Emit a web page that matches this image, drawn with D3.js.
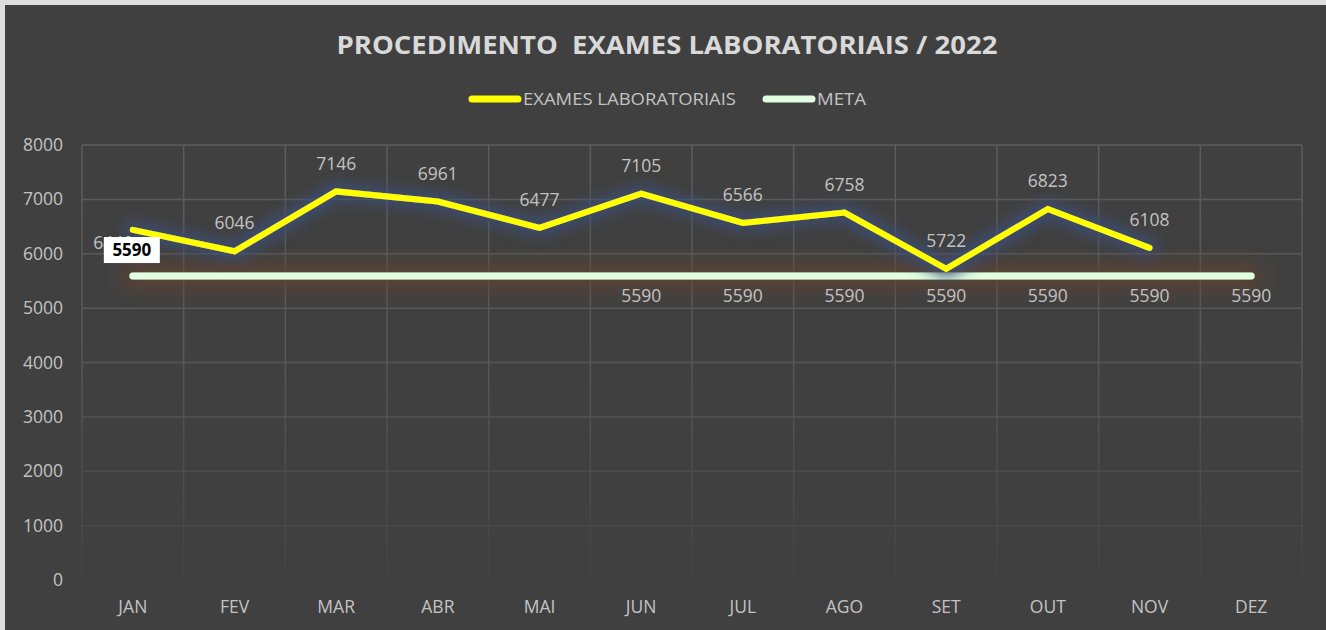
<!DOCTYPE html>
<html>
<head>
<meta charset="utf-8">
<script src="https://cdn.jsdelivr.net/npm/d3@7"></script>
<style>
  body { margin: 0; background: #404040; }
  svg { display: block; }
</style>
</head>
<body>
<div id="graf"></div>
<script>
// Datos
meses  = ['JAN', 'FEV', 'MAR', 'ABR', 'MAI', 'JUN', 'JUL', 'AGO', 'SET', 'OUT', 'NOV', 'DEZ']
exames = [6440, 6046, 7146, 6961, 6477, 7105, 6566, 6758, 5722, 6823, 6108, null]
meta   = [5590, 5590, 5590, 5590, 5590, 5590, 5590, 5590, 5590, 5590, 5590, 5590]
// rótulos da meta que aparecem no gráfico
metaVisivel = [false, false, false, false, false, true, true, true, true, true, true, true]
yTicks = [0, 1000, 2000, 3000, 4000, 5000, 6000, 7000, 8000]
titulo = 'PROCEDIMENTO  EXAMES LABORATORIAIS / 2022'
series = ['EXAMES LABORATORIAIS', 'META']

ancho_total = 1326
alto_total  = 630
margins = { top: 145, left: 82, right: 24, bottom: 50 }
ancho = ancho_total - margins.left - margins.right
alto  = alto_total - margins.top - margins.bottom

fonte = '"Open Sans", "DejaVu Sans", sans-serif'
cinza = '#c3c3c3'

svg = d3.select('#graf').append('svg')
  .attr('width', ancho_total)
  .attr('height', alto_total)
  .style('font-family', fonte)

// fundo e moldura clara
svg.append('rect').attr('width', ancho_total).attr('height', alto_total).attr('fill', '#dedede')
svg.append('rect').attr('x', 5).attr('y', 5)
  .attr('width', ancho_total - 5).attr('height', alto_total - 5)
  .attr('fill', '#404040')

defs = svg.append('defs')

// brilho das linhas (userSpaceOnUse porque a linha da meta não tem altura)
function glow(id, cor, desvio, raio) {
  let f = defs.append('filter').attr('id', id)
    .attr('filterUnits', 'userSpaceOnUse')
    .attr('x', 0).attr('y', 0).attr('width', ancho_total).attr('height', alto_total)
  f.append('feMorphology').attr('in', 'SourceAlpha').attr('operator', 'dilate').attr('radius', raio).attr('result', 'grosso')
  f.append('feGaussianBlur').attr('in', 'grosso').attr('stdDeviation', desvio).attr('result', 'blur')
  f.append('feFlood').attr('flood-color', cor)
  f.append('feComposite').attr('in2', 'blur').attr('operator', 'in').attr('result', 'sombra')
  let m = f.append('feMerge')
  m.append('feMergeNode').attr('in', 'sombra')
  m.append('feMergeNode').attr('in', 'SourceGraphic')
}
glow('glowAzul', '#3b4d74', 7, 4)
glow('glowLaranja', '#634330', 10, 6)

// gradiente das grades (somem perto da base)
grad = defs.append('linearGradient').attr('id', 'gradGrade')
  .attr('gradientUnits', 'userSpaceOnUse')
  .attr('x1', 0).attr('x2', 0)
  .attr('y1', margins.top).attr('y2', margins.top + alto)
grad.append('stop').attr('offset', '0%').attr('stop-color', '#5c5c5c')
grad.append('stop').attr('offset', '50%').attr('stop-color', '#575757')
grad.append('stop').attr('offset', '100%').attr('stop-color', '#434343')

// Escaladores
x = d3.scaleBand().domain(meses).range([0, ancho])
y = d3.scaleLinear().domain([0, 8000]).range([alto, 0])
cx = d => x(d) + x.bandwidth() / 2

// Grade (antes das linhas, para ficar por baixo)
grade = svg.append('g').attr('transform', `translate(${ margins.left }, 0)`)
grade.selectAll('.h').data(yTicks).enter().append('line')
  .attr('x1', 0).attr('x2', ancho)
  .attr('y1', d => margins.top + y(d)).attr('y2', d => margins.top + y(d))
  .attr('stroke', 'url(#gradGrade)').attr('stroke-width', 1.5)
grade.selectAll('.v').data(meses.map(m => x(m)).concat([ancho])).enter().append('line')
  .attr('x1', d => d).attr('x2', d => d)
  .attr('y1', margins.top).attr('y2', margins.top + alto)
  .attr('stroke', 'url(#gradGrade)').attr('stroke-width', 1.5)

g = svg.append('g')
  .attr('transform', `translate(${ margins.left }, ${ margins.top })`)

// Ejes
yAxis = g.append('g').call(d3.axisLeft(y).tickValues(yTicks).tickFormat(d3.format('d')).tickSize(0).tickPadding(19))
xAxis = g.append('g').attr('transform', `translate(0, ${ alto })`)
  .call(d3.axisBottom(x).tickSize(0).tickPadding(21))
g.selectAll('.domain').remove()
g.selectAll('.tick text')
  .attr('fill', cinza).style('font-size', '17.5px').style('font-family', fonte)

// Linhas
lineaGen = d3.line()
  .defined(d => d[1] != null)
  .x(d => cx(d[0]))
  .y(d => y(d[1]))

g.append('path')
  .attr('d', lineaGen(meses.map((m, i) => [m, meta[i]])))
  .attr('fill', 'none').attr('stroke', '#e1ffe0')
  .attr('stroke-width', 7).attr('stroke-linecap', 'round')
  .attr('filter', 'url(#glowLaranja)')

g.append('path')
  .attr('d', lineaGen(meses.map((m, i) => [m, exames[i]])))
  .attr('fill', 'none').attr('stroke', '#ffff00')
  .attr('stroke-width', 6).attr('stroke-linecap', 'round').attr('stroke-linejoin', 'miter')
  .attr('filter', 'url(#glowAzul)')

// Rótulos de dados
rotulos = g.append('g').attr('fill', cinza).style('font-size', '17.5px').attr('text-anchor', 'middle')
meses.forEach((m, i) => {
  if (exames[i] == null) return
  let px = cx(m), py = y(exames[i]) - 28
  // rótulo de JAN fica parcialmente atrás do destaque da meta
  if (i == 0) { px = cx(m) - 19.5; py = y(exames[i]) + 13 }
  rotulos.append('text').attr('x', px).attr('y', py).attr('dy', '0.35em').text(exames[i])
})
meses.forEach((m, i) => {
  if (!metaVisivel[i]) return
  rotulos.append('text').attr('x', cx(m)).attr('y', y(meta[i]) + 20).attr('dy', '0.35em').text(meta[i])
})

// rótulo destacado da meta em JAN
destaque = g.append('g').attr('transform', `translate(${ cx(meses[0]) - 1 }, ${ y(meta[0]) - 26 })`)
destaque.append('rect').attr('x', -28).attr('y', -13).attr('width', 56).attr('height', 26).attr('fill', '#ffffff')
destaque.append('text').attr('text-anchor', 'middle').attr('dy', '0.35em')
  .style('font-size', '17px').style('font-weight', 'bold').attr('fill', '#000')
  .text(meta[0])

// Título
svg.append('text')
  .attr('x', 667).attr('y', 45).attr('dy', '0.35em')
  .attr('text-anchor', 'middle')
  .attr('fill', '#d9d9d9').style('font-size', '25px').style('font-weight', 'bold')
  .style('white-space', 'pre')
  .attr('textLength', 661).attr('lengthAdjust', 'spacingAndGlyphs')
  .text(titulo)

// Legenda
legenda = svg.append('g').attr('transform', 'translate(0, 99)')
itens = [
  { nome: series[0], cor: '#ffff00', x0: 472, w: 213 },
  { nome: series[1], cor: '#e1ffe0', x0: 766, w: 49 }
]
itens.forEach(it => {
  legenda.append('line').attr('x1', it.x0).attr('x2', it.x0 + 46).attr('y1', 0).attr('y2', 0)
    .attr('stroke', it.cor).attr('stroke-width', 7).attr('stroke-linecap', 'round')
  legenda.append('text').attr('x', it.x0 + 51).attr('dy', '0.35em')
    .attr('fill', cinza).style('font-size', '16px')
    .attr('textLength', it.w).attr('lengthAdjust', 'spacingAndGlyphs')
    .text(it.nome)
})
</script>
</body>
</html>
